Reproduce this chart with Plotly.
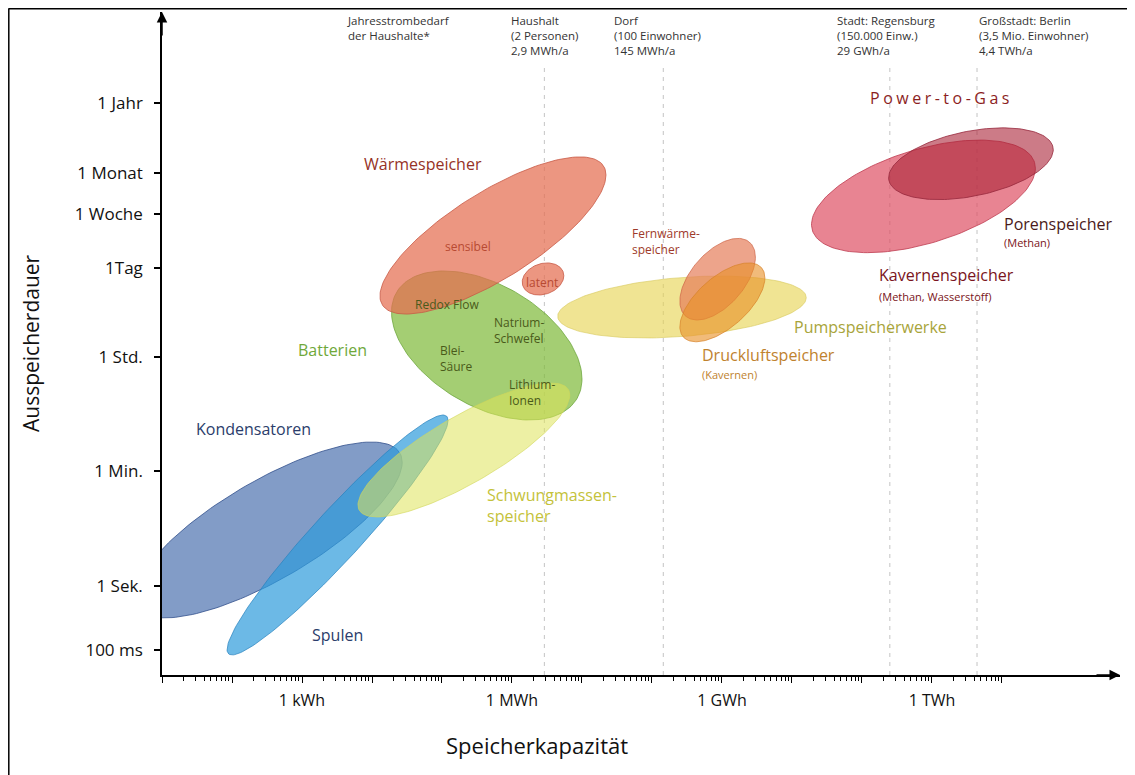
import numpy as np
import plotly.graph_objects as go

# storage technologies: ranges of capacity (kWh) and discharge duration (s)
techs = ["Kondensatoren", "Spulen", "Batterien", "Schwungmassenspeicher",
         "Wärmespeicher sensibel", "Wärmespeicher latent", "Pumpspeicherwerke",
         "Fernwärmespeicher", "Druckluftspeicher", "Kavernenspeicher", "Porenspeicher"]
cap_min_kwh = [0.004, 0.085, 19, 6.3, 13, 1400, 4500, 2.5e5, 2.5e5, 1.9e7, 2.4e8]
cap_max_kwh = [27, 122, 10000, 6700, 22000, 5500, 1.6e7, 3.0e6, 4.1e6, 3.0e10, 5.4e10]
dur_min_s = [0.32, 0.085, 378, 11.8, 16700, 33000, 7100, 13500, 6200, 1.5e5, 1.0e6]
dur_max_s = [172, 452, 78000, 1420, 4.6e6, 1.04e5, 65000, 2.5e5, 1.04e5, 8.4e6, 1.3e7]
tilt = [0.77, 0.955, -0.45, 0.82, 0.77, 0.2, 0.3, 0.54, 0.62, 0.5, 0.39]

fills = ["rgba(65,105,170,0.66)", "rgba(45,155,220,0.7)", "rgba(125,185,55,0.7)",
         "rgba(222,228,90,0.55)", "rgba(228,110,80,0.72)", "rgba(228,110,80,0.72)",
         "rgba(230,212,80,0.62)", "rgba(230,125,90,0.7)", "rgba(232,145,40,0.62)",
         "rgba(222,80,100,0.7)", "rgba(170,35,55,0.6)"]
edges = ["rgba(50,80,140,0.8)", "rgba(40,130,190,0.7)", "rgba(100,160,50,0.7)",
         "rgba(210,215,90,0.6)", "rgba(200,90,70,0.8)", "rgba(200,90,70,0.8)",
         "rgba(215,200,90,0.6)", "rgba(205,100,70,0.7)", "rgba(215,130,40,0.7)",
         "rgba(190,60,80,0.8)", "rgba(150,40,60,0.8)"]
draw_order = [0, 1, 2, 3, 4, 5, 6, 7, 8, 9, 10]

# x-axis labels (kWh) and y-axis labels (seconds)
cap_ticks = [1, 1e3, 1e6, 1e9]
cap_labels = ["1 kWh", "1 MWh", "1 GWh", "1 TWh"]
dur_ticks = [0.1, 1, 60, 3600, 86400, 604800, 2592000, 31536000]
dur_labels = ["100 ms", "1 Sek.", "1 Min.", "1 Std.", "1Tag", "1 Woche", "1 Monat", "1 Jahr"]

# reference consumptions (dashed lines), kWh per year
ref_kwh = [2900, 145000, 2.5e8, 4.4e9]

FONT = "Open Sans"


def ellipse(c0, c1, d0, d1, rho, n=160):
    lx0, lx1 = np.log10(c0), np.log10(c1)
    ly0, ly1 = np.log10(d0), np.log10(d1)
    cx, rx = (lx0 + lx1) / 2, (lx1 - lx0) / 2
    cy, ry = (ly0 + ly1) / 2, (ly1 - ly0) / 2
    t = np.linspace(0, 2 * np.pi, n)
    lx = cx + rx * np.cos(t)
    ly = cy + ry * (rho * np.cos(t) + np.sqrt(1 - rho ** 2) * np.sin(t))
    return 10 ** lx, 10 ** ly


fig = go.Figure()
for i in draw_order:
    ex, ey = ellipse(cap_min_kwh[i], cap_max_kwh[i], dur_min_s[i], dur_max_s[i], tilt[i])
    fig.add_trace(go.Scatter(x=ex, y=ey, mode="lines", fill="toself",
                             fillcolor=fills[i], line=dict(color=edges[i], width=1),
                             name=techs[i], hoverinfo="name"))

# plot area in page pixels (page body has an 8px margin)
OFF = 8
L, R, T, B = 162, 1120, 12, 675
W, H = 1135 - OFF, 775 - OFF


def px(x):
    return (x - L) / (R - L)


def py(y):
    return (B - y) / (B - T)


shapes = []
for v in ref_kwh:
    shapes.append(dict(type="line", xref="x", yref="paper", x0=v, x1=v,
                       y0=0, y1=py(68), line=dict(color="#c4c4c4", width=1, dash="4px,5px"),
                       layer="below"))
# page frame
shapes.append(dict(type="line", xref="paper", yref="paper", x0=px(8.5), x1=px(1135), y0=py(8.8), y1=py(8.8),
                   line=dict(color="black", width=1.5)))
shapes.append(dict(type="line", xref="paper", yref="paper", x0=px(8.8), x1=px(8.8), y0=py(8.5), y1=py(775),
                   line=dict(color="black", width=1.5)))

anns = []


def label(text, x, y, size, color, xanchor="center", align="center", yanchor="middle"):
    anns.append(dict(text=text, x=px(x), y=py(y), xref="paper", yref="paper", showarrow=False,
                     xanchor=xanchor, yanchor=yanchor, align=align,
                     font=dict(family=FONT, size=size, color=color)))


hdr = "#333333"
label("Jahresstrombedarf<br>der Haushalte*", 345, 11, 11.5, hdr, "left", "left", "top")
label("Haushalt<br>(2 Personen)<br>2,9 MWh/a", 509, 11, 11.5, hdr, "left", "left", "top")
label("Dorf<br>(100 Einwohner)<br>145 MWh/a", 612, 11, 11.5, hdr, "left", "left", "top")
label("Stadt: Regensburg<br>(150.000 Einw.)<br>29 GWh/a", 835, 11, 11.5, hdr, "left", "left", "top")
label("Großstadt: Berlin<br>(3,5 Mio. Einwohner)<br>4,4 TWh/a", 977, 11, 11.5, hdr, "left", "left", "top")

label('<span style="letter-spacing:3.5px">Power-to-Gas</span>', 941, 98, 16, "#8c1e1e")
label("Wärmespeicher", 423, 164, 16, "#963226")
label("sensibel", 468, 247, 12, "#b84a32")
label("latent", 542, 282, 12, "#b84a32")
label("Redox Flow", 447, 304, 12, "#4a5a1a")
label("Natrium-<br>Schwefel", 492, 331, 12, "#4a5a1a", "left", "left")
label("Blei-<br>Säure", 438, 359, 12, "#4a5a1a", "left", "left")
label("Lithium-<br>Ionen", 507, 393, 12, "#4a5a1a", "left", "left")
label("Batterien", 332, 350, 16, "#6fa83a")
label("Kondensatoren", 253, 429, 16, "#2b3d6b")
label("Spulen", 337, 635, 16, "#2b3d6b")
label("Schwungmassen-<br>speicher", 485, 505, 16, "#c4c23a", "left", "left")
label("Fernwärme-<br>speicher", 630, 241, 12, "#9e3a2a", "left", "left")
label("Pumpspeicherwerke", 792, 327, 16, "#a8a43a", "left", "left")
label("Druckluftspeicher", 700, 355, 16, "#c0822e", "left", "left")
label("(Kavernen)", 700, 374, 11, "#c0822e", "left", "left")
label("Kavernenspeicher", 877, 275, 16, "#7a1420", "left", "left")
label("(Methan, Wasserstoff)", 877, 296, 11, "#7a1420", "left", "left")
label("Porenspeicher", 1002, 224, 16, "#4a1a1a", "left", "left")
label("(Methan)", 1002, 242, 11, "#7a1420", "left", "left")

# axis titles
anns.append(dict(text="Ausspeicherdauer", x=px(31), y=py(343), xref="paper", yref="paper",
                 showarrow=False, textangle=-90, xanchor="center", yanchor="middle",
                 font=dict(family=FONT, size=21, color="#111")))
label("Speicherkapazität", 537, 745, 22, "#111")

# arrow heads on the axes
anns.append(dict(x=1, y=0, xref="paper", yref="paper", ax=-25, ay=0, showarrow=True,
                 arrowhead=2, arrowsize=1.4, arrowwidth=1.5, arrowcolor="black", text=""))
anns.append(dict(x=0, y=1, xref="paper", yref="paper", ax=0, ay=25, showarrow=True,
                 arrowhead=2, arrowsize=1.4, arrowwidth=1.5, arrowcolor="black", text=""))

major_x = [10.0 ** d for d in range(-2, 11)]
major_x_text = [cap_labels[cap_ticks.index(v)] if v in cap_ticks else "" for v in major_x]
minor_x = [k * 10.0 ** d for d in range(-2, 10) for k in range(2, 10)]

fig.update_layout(
    width=W, height=H, autosize=False,
    margin=dict(l=L - OFF, r=W - (R - OFF), t=T - OFF, b=H - (B - OFF), pad=0),
    paper_bgcolor="white", plot_bgcolor="white",
    showlegend=False,
    font=dict(family=FONT, color="#111"),
    shapes=shapes, annotations=anns,
    xaxis=dict(type="log", range=[-2, 11.686], showgrid=False, zeroline=False,
               showline=True, linecolor="black", linewidth=1.5,
               tickmode="array", tickvals=major_x, ticktext=major_x_text,
               ticks="outside", ticklen=6, tickwidth=1.2, tickcolor="black",
               ticklabelstandoff=4, tickfont=dict(family=FONT, size=16, color="#111"),
               minor=dict(tickmode="array", tickvals=minor_x, ticks="outside", ticklen=4,
                          tickwidth=1, tickcolor="black")),
    yaxis=dict(type="log", range=[-1.382, 8.913], showgrid=False, zeroline=False,
               showline=True, linecolor="black", linewidth=1.5,
               tickmode="array", tickvals=dur_ticks, ticktext=dur_labels,
               ticks="outside", ticklen=6, tickwidth=1.5, tickcolor="black",
               ticklabelstandoff=8, tickfont=dict(family=FONT, size=17, color="#111")),
)

fig.write_html("out.html")
